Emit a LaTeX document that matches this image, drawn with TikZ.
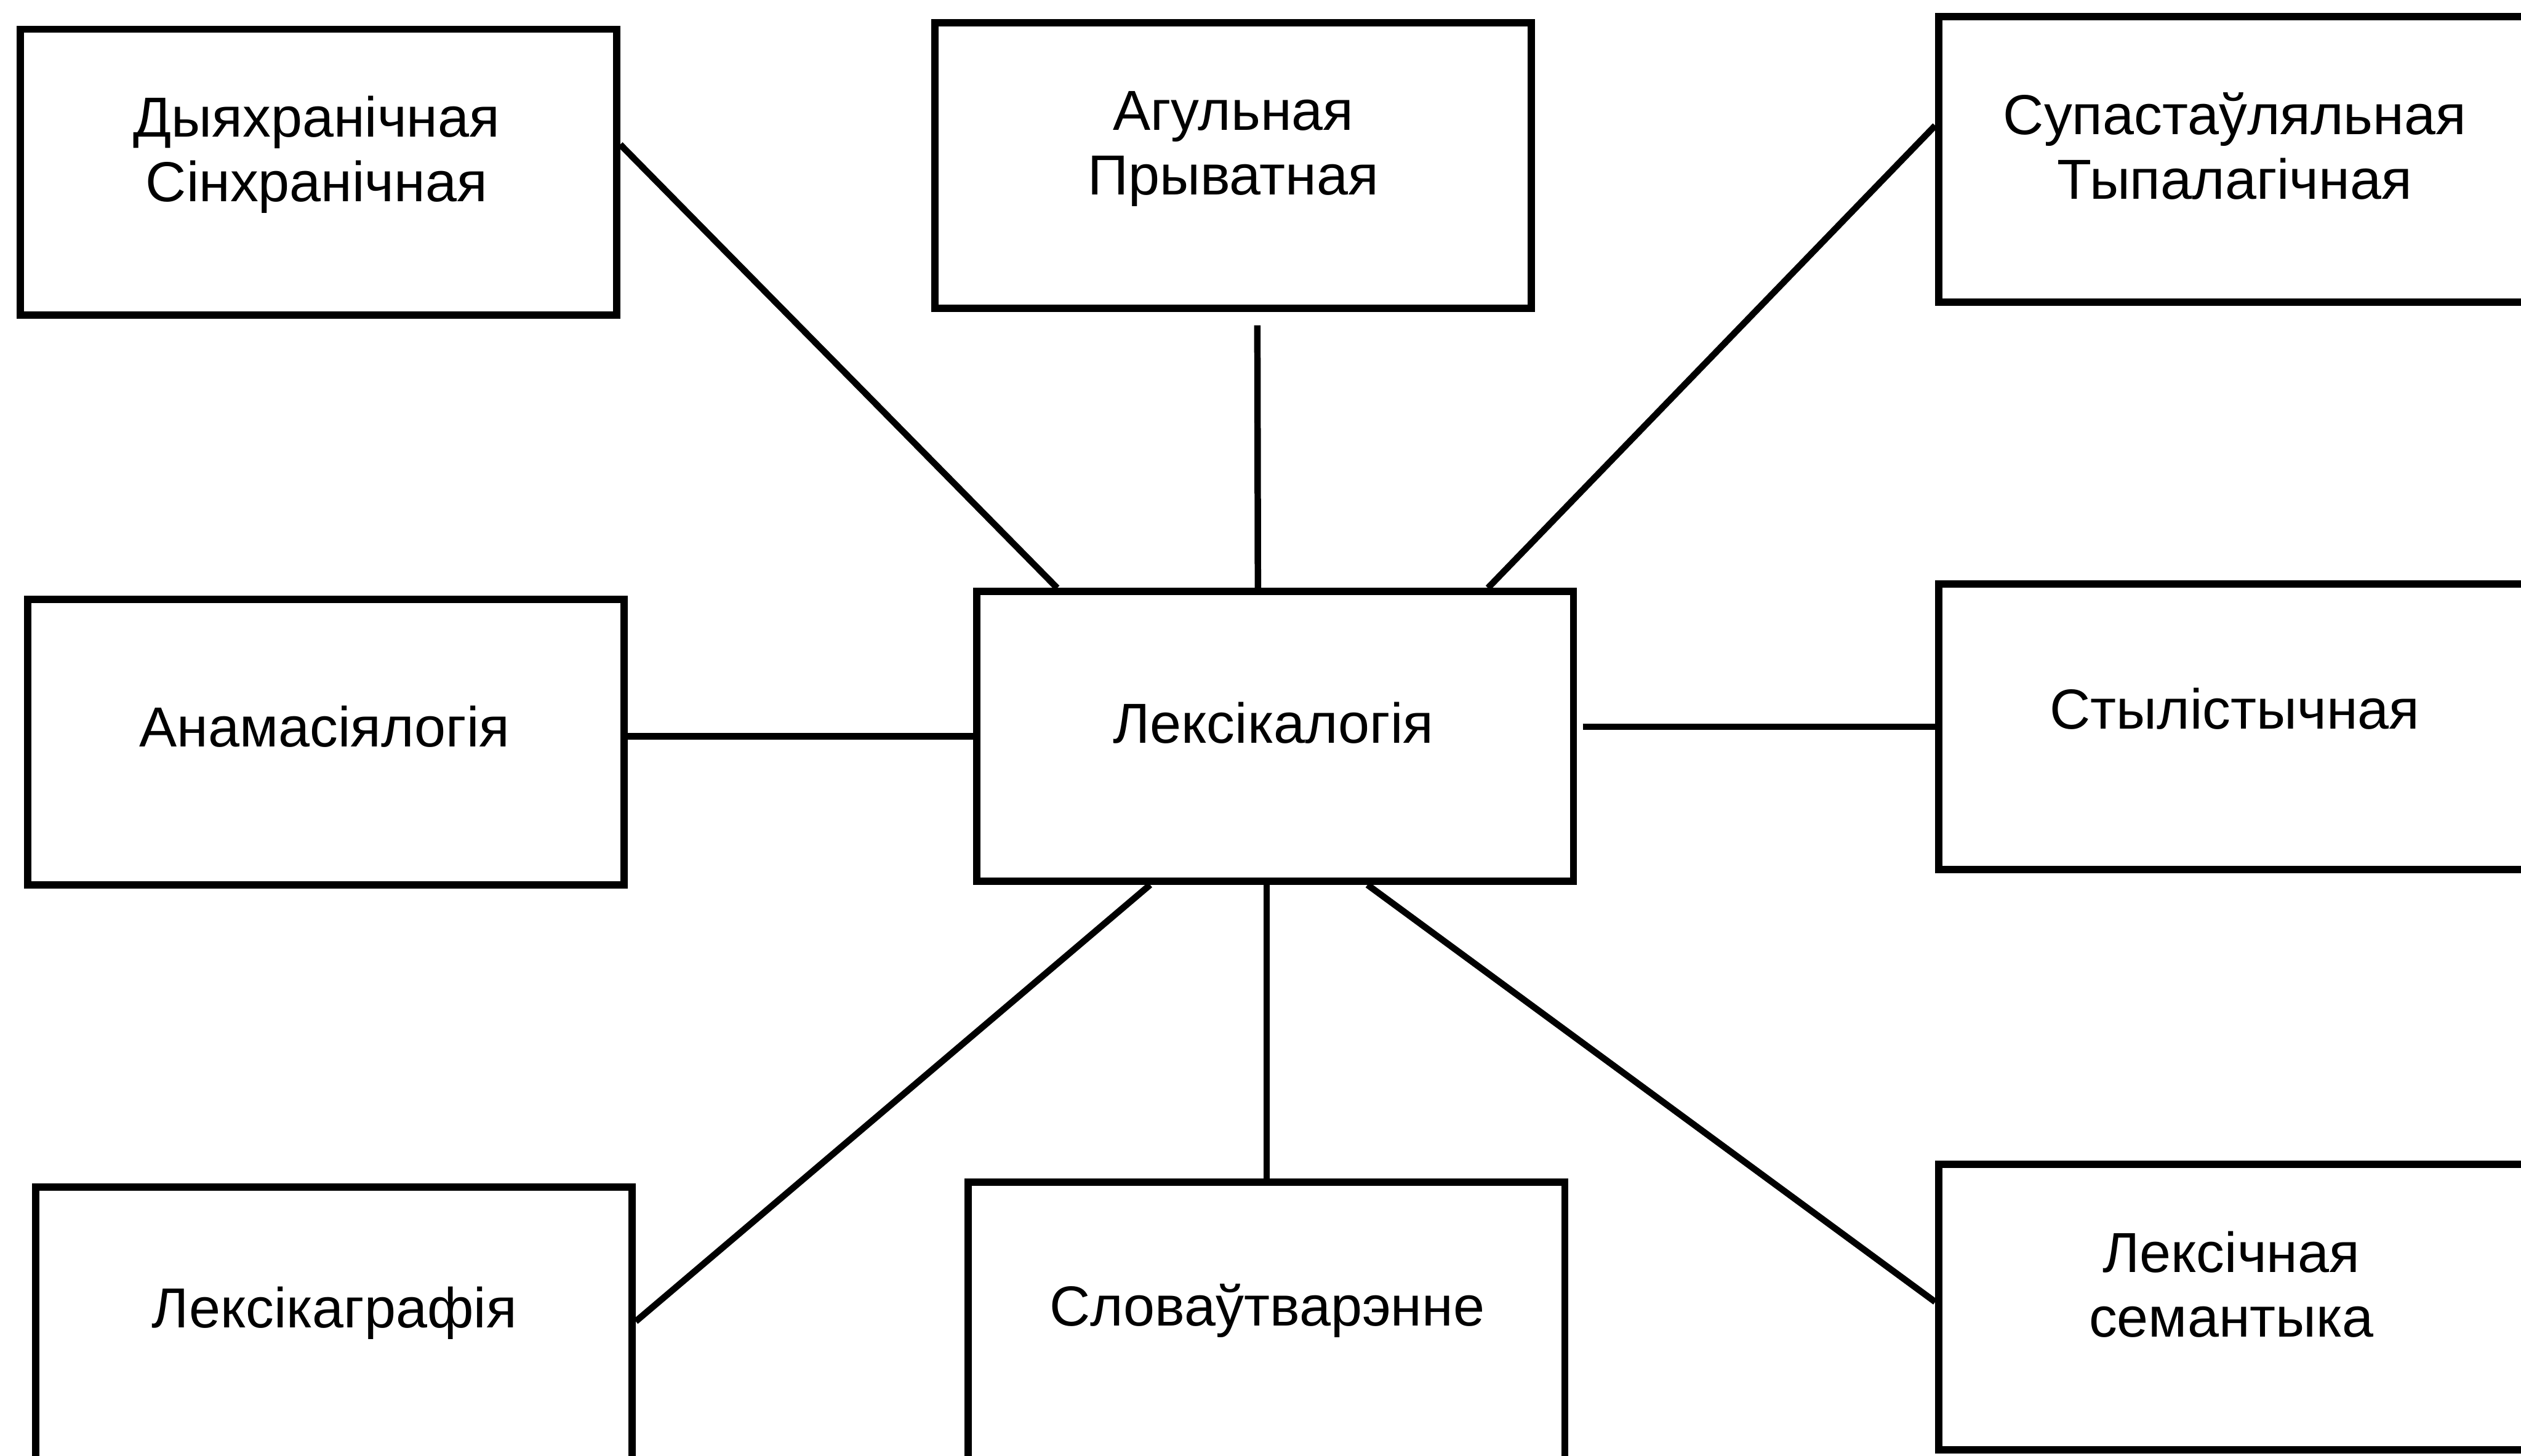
\documentclass[tikz,border=0pt]{standalone}
\usepackage{fontspec}
\setmainfont{Liberation Sans}
\usetikzlibrary{positioning}

\begin{document}
\begin{tikzpicture}[
    rbox/.style={draw,line width=3.6pt,minimum width=10.4cm,minimum height=4.98cm,inner sep=0pt},
    rtext/.style={align=center,inner sep=0pt,font=\fontsize{28}{32}\selectfont},
    rline/.style={line width=3.2pt}]
\useasboundingbox (0,0) rectangle (43.95,-25.38);
\node[rbox] (tl) at (5.55,-3.0) {};
\node[rbox] (tc) at (21.5,-2.89) {};
\node[rbox] (tr) at (39.0,-2.78) {};
\node[rbox] (ml) at (5.68,-12.94) {};
\node[rbox,minimum height=5.05cm] (lex) at (22.23,-12.84) {};
\node[rbox] (mr) at (39.0,-12.67) {};
\node[rbox] (bl) at (5.82,-23.19) {};
\node[rbox] (bc) at (22.08,-23.1) {};
\node[rbox] (br) at (39.0,-22.79) {};
\node[rtext] (tl-t) at (5.52,-2.7) {Дыяхранічная\\Сінхранічная};
\node[rtext] (tc-t) at (21.5,-2.6) {Агульная\\Прыватная};
\node[rtext] (tr-t) at (38.96,-2.55) {Супастаўляльная\\Тыпалагічная};
\node[rtext] (ml-t) at (5.66,-12.67) {Анамасіялогія};
\node[rtext] (lex-t) at (22.2,-12.61) {Лексікалогія};
\node[rtext] (mr-t) at (38.96,-12.36) {Стылістычная};
\node[rtext] (bl-t) at (5.83,-22.9) {Лексікаграфія};
\node[rtext] (bc-t) at (22.09,-22.85) {Словаўтварэнне};
\node[rtext] (br-t) at (38.9,-22.4) {Лексічная\\семантыка};
% upper row
\draw[rline] ([yshift=4.8mm]tl.east) -- ([xshift=-38mm]lex.north);
\draw[rline] ([xshift=4.2mm,yshift=-2.3mm]tc.south) -- ([xshift=-3mm]lex.north);
\draw[rline] ([xshift=37.1mm]lex.north) -- ([yshift=5.9mm]tr.west);
% middle row
\draw[rline] ([yshift=1mm]ml.east) -- ([yshift=1mm]ml.east -| lex.west);
\draw[rline] ([xshift=1mm]mr.west -| lex.east) -- (mr.west);
% lower row
\draw[rline] ([xshift=-21.8mm]lex.south) -- ([yshift=1.5mm]bl.east);
\draw[rline] (bc.north |- lex.south) -- (bc.north);
\draw[rline] ([xshift=16.1mm]lex.south) -- ([yshift=0.9mm]br.west);
\end{tikzpicture}
\end{document}
